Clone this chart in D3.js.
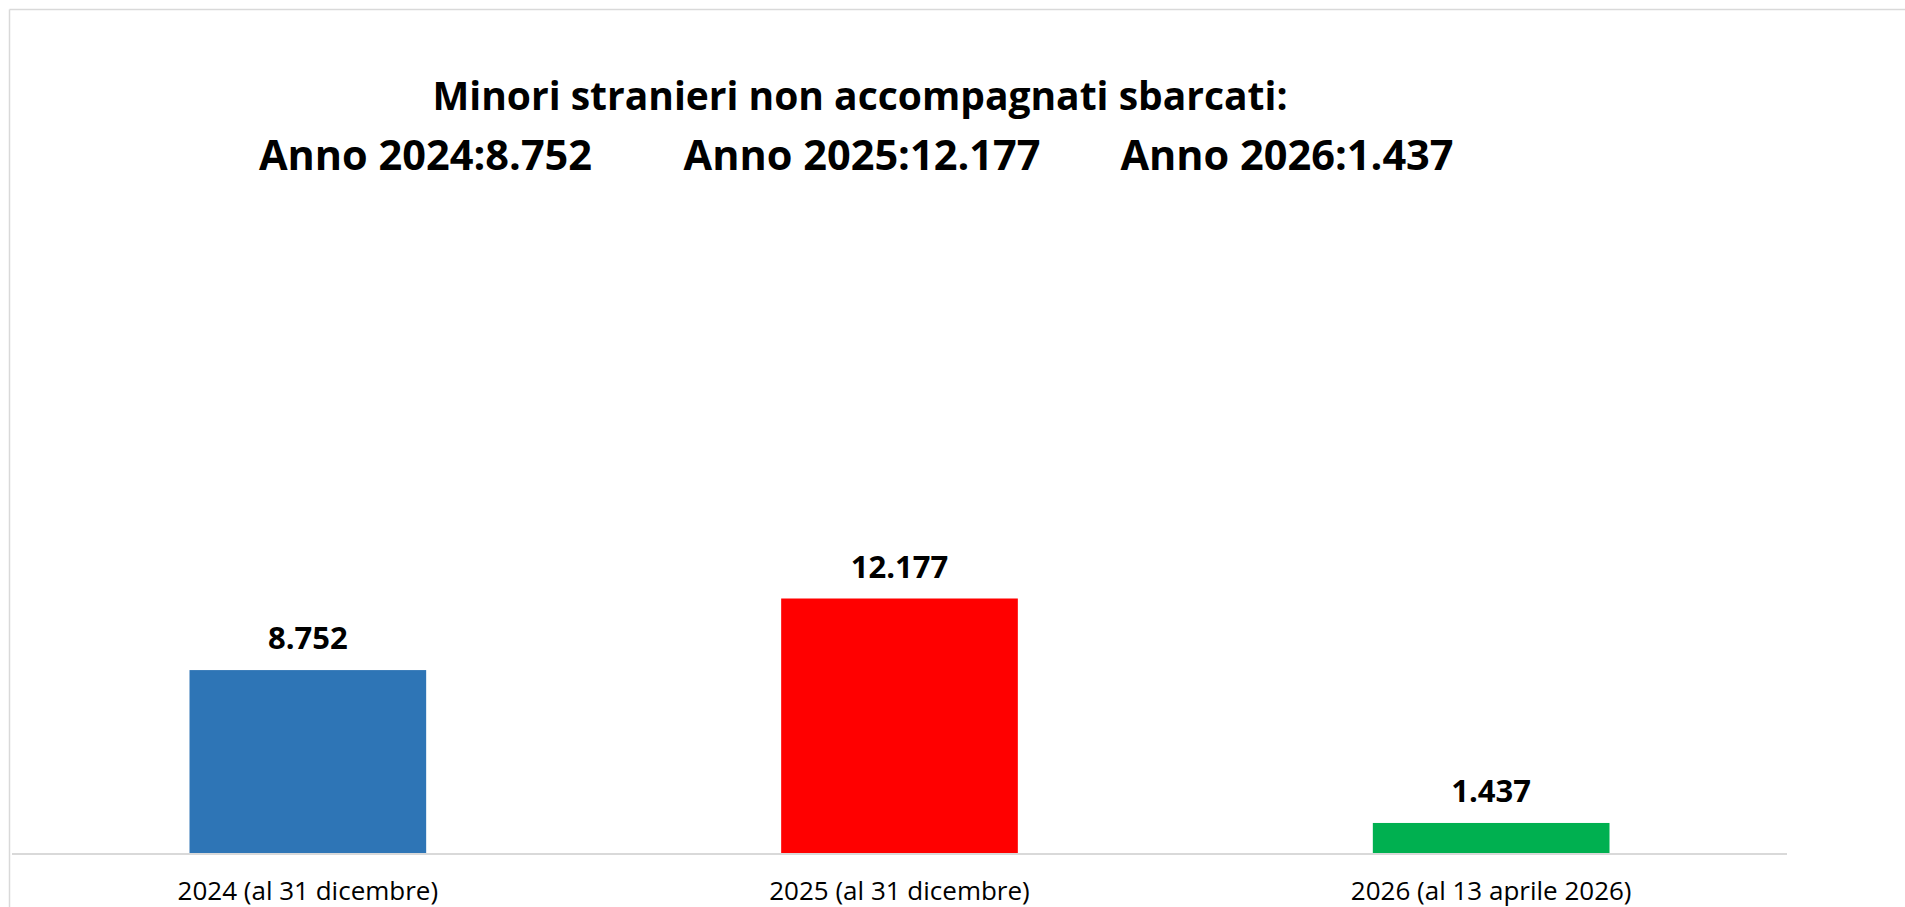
<!DOCTYPE html>
<html>
<head>
<meta charset="utf-8">
<script src="https://cdn.jsdelivr.net/npm/d3@7"></script>
<style>
  html, body { margin: 0; padding: 0; background: #ffffff; }
  svg { display: block; }
</style>
</head>
<body>
<svg id="chart" width="1905" height="907"></svg>
<script>
// ---- Data ----
const categories = ["2024 (al 31 dicembre)", "2025 (al 31 dicembre)", "2026 (al 13 aprile 2026)"];
const values = [8752, 12177, 1437];
const valueLabels = ["8.752", "12.177", "1.437"];
const barColors = ["#2E75B6", "#FF0000", "#00B050"];
const titleLine1 = "Minori stranieri non accompagnati sbarcati:";
const titleLine2 = ["Anno 2024:8.752", "Anno 2025:12.177", "Anno 2026:1.437"];

// ---- Layout ----
const W = 1905, H = 907;
const plot = { left: 12, right: 1787, top: 17, bottom: 853 };
const FONT = "'Open Sans', 'Liberation Sans', sans-serif";

const svg = d3.select("#chart");

svg.append("rect").attr("width", W).attr("height", H).attr("fill", "#ffffff");

// chart area border (top and left visible)
svg.append("line").attr("x1", 9.5).attr("x2", W).attr("y1", 9.5).attr("y2", 9.5)
  .attr("stroke", "#d9d9d9").attr("stroke-width", 1.5);
svg.append("line").attr("x1", 9.5).attr("x2", 9.5).attr("y1", 9.5).attr("y2", H)
  .attr("stroke", "#d9d9d9").attr("stroke-width", 1.5);

const x = d3.scaleBand()
  .domain(categories)
  .range([plot.left, plot.right])
  .paddingInner(0.6)
  .paddingOuter(0.3);

const y = d3.scaleLinear()
  .domain([0, 40000])
  .range([plot.bottom, plot.top]);

const data = categories.map((c, i) => ({ cat: c, v: values[i], label: valueLabels[i], color: barColors[i] }));

// bars
svg.append("g").selectAll("rect").data(data).join("rect")
  .attr("x", d => x(d.cat))
  .attr("width", x.bandwidth())
  .attr("y", d => y(d.v))
  .attr("height", d => y(0) - y(d.v))
  .attr("fill", d => d.color);

// category axis
const xAxis = d3.axisBottom(x).tickSize(0).tickPadding(0);
const gx = svg.append("g").attr("transform", `translate(0,${y(0)})`).call(xAxis);
gx.select(".domain").attr("stroke", "#d9d9d9").attr("stroke-width", 2).attr("d", `M${plot.left},1H${plot.right}`);
gx.selectAll(".tick text")
  .attr("y", 47)
  .attr("dy", 0)
  .attr("fill", "#000000")
  .style("font-family", FONT)
  .style("font-size", "26px")
  .style("font-weight", 400);

// value labels
svg.append("g").selectAll("text").data(data).join("text")
  .attr("x", d => x(d.cat) + x.bandwidth() / 2)
  .attr("y", d => y(d.v) - 21)
  .attr("text-anchor", "middle")
  .attr("fill", "#000000")
  .style("font-family", FONT)
  .style("font-size", "31px")
  .style("font-weight", 700)
  .text(d => d.label);

// title
svg.append("text")
  .attr("x", 860).attr("y", 110)
  .attr("text-anchor", "middle")
  .attr("fill", "#000000")
  .style("font-family", FONT)
  .style("font-size", "39px")
  .style("font-weight", 700)
  .text(titleLine1);

const groupCenters = [425.5, 862, 1287];
svg.append("g").selectAll("text").data(titleLine2).join("text")
  .attr("x", (d, i) => groupCenters[i])
  .attr("y", 170)
  .attr("text-anchor", "middle")
  .attr("fill", "#000000")
  .style("font-family", FONT)
  .style("font-size", "41.5px")
  .style("font-weight", 700)
  .text(d => d);
</script>
</body>
</html>
